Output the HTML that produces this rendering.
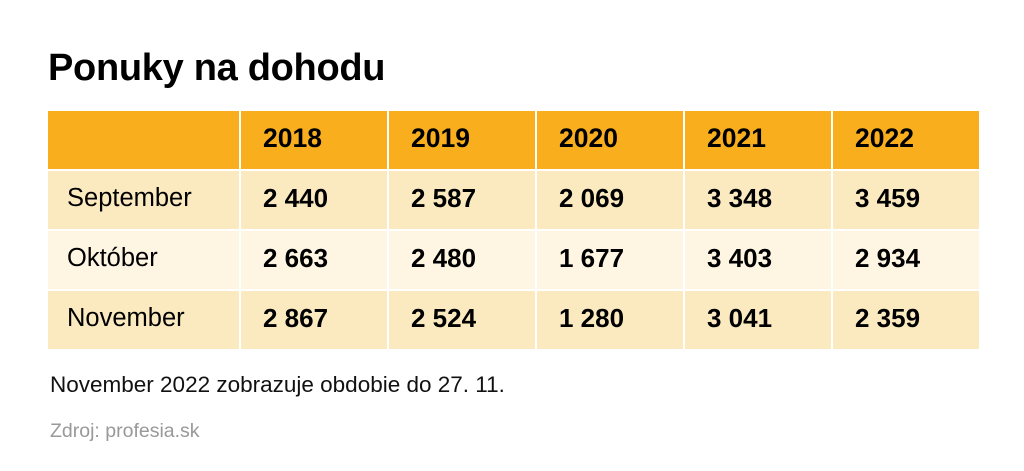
<!DOCTYPE html>
<html><head><meta charset="utf-8"><style>
body{margin:0;width:1024px;height:471px;background:#fff;font-family:"Liberation Sans",sans-serif;position:relative;overflow:hidden}
h1{position:absolute;left:48px;top:47px;margin:0;font-size:38px;font-weight:bold;color:#000;letter-spacing:-0.3px}
.g{position:absolute;left:48px;top:111px;width:933px;height:238px;display:grid;grid-template-columns:191px repeat(5,146px);grid-template-rows:58px 58px 58px 58px;gap:2px;background:#fff}
.g div{display:flex;align-items:center;font-size:25.5px;color:#000;padding-bottom:3px;box-sizing:border-box}
.h{background:#F8AE1D;font-weight:bold;padding-left:22px;font-size:26.5px!important}
.a{background:#FBEAC0}.b{background:#FEF6E3}
.l{padding-left:19px}
.n{font-weight:bold;padding-left:22px;font-size:26px!important}
.note{position:absolute;left:50px;top:372px;font-size:22.5px;color:#111}
.src{position:absolute;left:50px;top:420px;font-size:19.5px;color:#999}
</style></head><body>
<h1>Ponuky na dohodu</h1>
<div class="g">
<div class="h"></div><div class="h">2018</div><div class="h">2019</div><div class="h">2020</div><div class="h">2021</div><div class="h">2022</div>
<div class="a l">September</div><div class="a n">2 440</div><div class="a n">2 587</div><div class="a n">2 069</div><div class="a n">3 348</div><div class="a n">3 459</div>
<div class="b l">Október</div><div class="b n">2 663</div><div class="b n">2 480</div><div class="b n">1 677</div><div class="b n">3 403</div><div class="b n">2 934</div>
<div class="a l">November</div><div class="a n">2 867</div><div class="a n">2 524</div><div class="a n">1 280</div><div class="a n">3 041</div><div class="a n">2 359</div>
</div>
<div class="note">November 2022 zobrazuje obdobie do 27. 11.</div>
<div class="src">Zdroj: profesia.sk</div>
</body></html>
